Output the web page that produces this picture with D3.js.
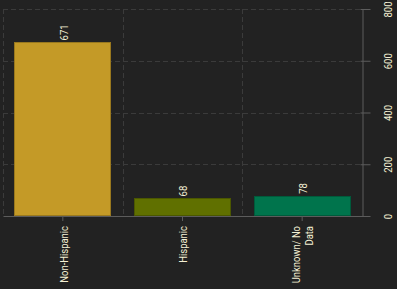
<!DOCTYPE html>
<html>
<head>
<meta charset="utf-8">
<script src="https://cdn.jsdelivr.net/npm/d3@7"></script>
<style>
  body { margin: 0; background: #222222; }
  text { font-family: Roboto, "Liberation Sans", sans-serif; }
</style>
</head>
<body>
<div id="chart"></div>
<script>
const categories = ["Non-Hispanic", "Hispanic", "Unknown/ No Data"];
const labelLines = [["Non-Hispanic"], ["Hispanic"], ["Unknown/ No", "Data"]];
const counts = [671, 68, 78];
const barColors = ["#c49a27", "#607000", "#00744c"];
const yTicks = [0, 200, 400, 600, 800];

const width = 397, height = 289;
const plot = { left: 3, right: 362, top: 9, bottom: 216 };
const textColor = "#f4f0d4";
const fontSize = 10.5;
const squeeze = "scale(0.9,1)";

const svg = d3.select("#chart").append("svg")
  .attr("width", width)
  .attr("height", height)
  .style("display", "block")
  .style("background", "#222222");

const x = d3.scaleBand()
  .domain(categories)
  .range([plot.left, plot.right])
  .paddingInner(0.19)
  .paddingOuter(0.095);

const y = d3.scaleLinear()
  .domain([0, 800])
  .range([plot.bottom, plot.top]);

// grid
const grid = svg.append("g").attr("stroke", "#3b3b3b").attr("stroke-dasharray", "5,3");
grid.selectAll("line.h")
  .data(yTicks.slice(1))
  .enter().append("line")
  .attr("x1", plot.left).attr("x2", plot.right)
  .attr("y1", d => Math.round(y(d)) + 0.5).attr("y2", d => Math.round(y(d)) + 0.5);
grid.selectAll("line.v")
  .data(categories)
  .enter().append("line")
  .attr("x1", d => Math.round(x(d) - x.step() * x.paddingOuter()) + 0.5)
  .attr("x2", d => Math.round(x(d) - x.step() * x.paddingOuter()) + 0.5)
  .attr("y1", plot.top).attr("y2", plot.bottom);

// bars
svg.append("g")
  .selectAll("rect")
  .data(categories)
  .enter().append("rect")
  .attr("x", d => Math.round(x(d)) + 0.5)
  .attr("y", (d, i) => Math.round(y(counts[i])) + 0.5)
  .attr("width", Math.round(x.bandwidth()) - 1)
  .attr("height", (d, i) => Math.round(y(0)) - Math.round(y(counts[i])) - 1)
  .attr("fill", (d, i) => barColors[i])
  .attr("stroke", (d, i) => d3.color(barColors[i]).darker(0.7))
  .attr("stroke-width", 1);

// value labels
svg.append("g")
  .selectAll("text")
  .data(categories)
  .enter().append("text")
  .attr("transform", (d, i) => `translate(${x(d) + x.bandwidth() / 2 + 1},${y(counts[i]) - 2}) rotate(-90) ${squeeze}`)
  .attr("dy", "0.35em")
  .attr("fill", textColor)
  .style("font-size", fontSize + "px")
  .text((d, i) => counts[i]);

// x axis
const xAxis = svg.append("g")
  .attr("transform", `translate(0,${plot.bottom})`)
  .call(d3.axisBottom(x).tickSizeInner(5).tickSizeOuter(0).tickFormat(""));
xAxis.select(".domain").attr("stroke", "#5c5c5c");
xAxis.selectAll(".tick line").attr("stroke", "#5c5c5c");

const xLabels = svg.append("g")
  .selectAll("text")
  .data(categories)
  .enter().append("text")
  .attr("transform", d => `translate(${x(d) + x.bandwidth() / 2 + 1},${plot.bottom + 10}) rotate(-90) ${squeeze}`)
  .attr("text-anchor", "end")
  .attr("fill", textColor)
  .style("font-size", fontSize + "px");
xLabels.each(function (d, i) {
  const lines = labelLines[i];
  d3.select(this).selectAll("tspan")
    .data(lines)
    .enter().append("tspan")
    .attr("x", 0)
    .attr("y", (l, j) => (j - (lines.length - 1) / 2) * 13)
    .attr("dy", "0.35em")
    .text(l => l);
});

// y axis on the right
const yAxis = svg.append("g")
  .attr("transform", `translate(${plot.right + 0.5},0)`)
  .call(d3.axisRight(y).tickValues(yTicks).tickSizeInner(8).tickSizeOuter(0));
yAxis.select(".domain").attr("stroke", "#5c5c5c");
yAxis.selectAll(".tick line").attr("x1", -2).attr("stroke", "#5c5c5c");
yAxis.selectAll(".tick text")
  .attr("x", null)
  .attr("transform", `translate(26,0) rotate(-90) ${squeeze}`)
  .attr("text-anchor", "middle")
  .attr("dy", "0.35em")
  .attr("fill", textColor)
  .style("font-size", fontSize + "px");
yAxis.attr("font-family", null).attr("font-size", null);
</script>
</body>
</html>
